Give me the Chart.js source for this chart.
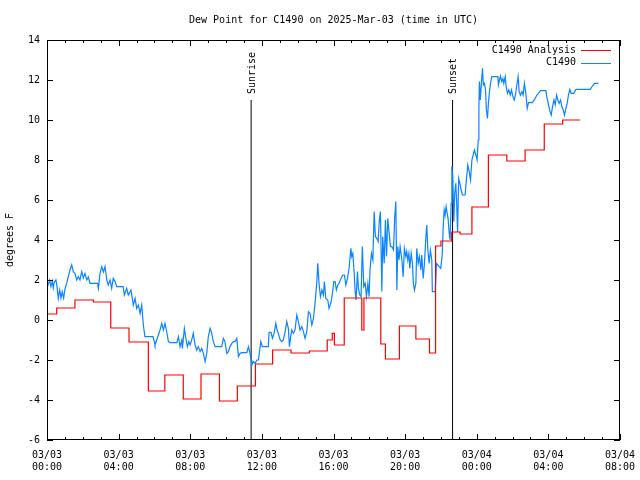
<!doctype html>
<html lang="en">
  <head>
    <meta charset="utf-8">
    <title>Dew Point for C1490</title>
    <style>
      * {
        margin: 0;
        padding: 0;
      }
      body {
        background: #ffffff;
      }
    </style>
  </head>
  <body>
    <canvas id="myChart" width="640" height="480"></canvas>
    <script src="https://cdn.jsdelivr.net/npm/chart.js"></script>
    <script>
    // data: hours since 03/03 00:00 UTC, dew point in degrees F
    const analysisHours = [0, 0.54, 1.56, 2.59, 3.56, 4.58, 5.66, 6.58, 7.61, 8.6, 9.63, 10.63, 11.64,
      12.6, 13.63, 14.65, 15.65, 15.93, 16.05, 16.6, 17.58, 17.7, 18.64, 18.9, 19.68, 20.6, 21.36,
      21.7, 22.0, 22.6, 23.07, 23.73, 24.65, 25.68, 26.7, 27.77, 28.8, 29.78];
    const analysisValues = [0.3, 0.6, 1.0, 0.9, -0.4, -1.1, -3.55, -2.75, -3.95, -2.7, -4.05, -3.3, -2.2,
      -1.5, -1.65, -1.55, -1.0, -0.67, -1.25, 1.1, -0.5, 1.1, -1.2, -1.95, -0.3, -0.95, -1.65,
      3.7, 3.95, 4.4, 4.3, 5.65, 8.25, 7.95, 8.5, 9.8, 10.0, 10.0];

    const obsHours = [0, 0.15, 0.22, 0.30, 0.35, 0.41, 0.50, 0.56, 0.63, 0.71, 0.78, 0.85, 0.93, 1.01,
      1.10, 1.19, 1.28, 1.38, 1.47, 1.56, 1.66, 1.75, 1.84, 1.94, 2.03, 2.12, 2.22, 2.31, 2.40, 2.82,
      2.87, 2.96, 3.06, 3.15, 3.24, 3.34, 3.42, 3.52, 3.61, 3.70, 3.80, 3.89, 4.25, 4.32, 4.45, 4.54,
      4.69, 4.82, 4.92, 5.01, 5.10, 5.20, 5.29, 5.38, 5.47, 5.92, 5.99, 6.03, 6.13, 6.22, 6.31, 6.41,
      6.50, 6.59, 6.69, 6.78, 6.87, 7.25, 7.34, 7.43, 7.53, 7.56, 7.61, 7.67, 7.77, 7.84, 7.92, 7.99,
      8.08, 8.17, 8.27, 8.36, 8.45, 8.55, 8.64, 8.73, 8.83, 8.92, 9.01, 9.11, 9.20, 9.29, 9.39, 9.76,
      9.85, 9.94, 10.04, 10.13, 10.22, 10.32, 10.41, 10.50, 10.60, 10.69, 10.78, 10.88, 11.16, 11.25,
      11.34, 11.40, 11.44, 11.53, 11.62, 11.72, 11.81, 11.94, 12.03, 12.36, 12.40, 12.51, 12.59, 12.68,
      12.78, 12.85, 12.92, 13.02, 13.11, 13.20, 13.30, 13.39, 13.48, 13.54, 13.61, 13.67, 13.76, 13.85,
      13.95, 14.04, 14.13, 14.23, 14.32, 14.41, 14.51, 14.60, 14.69, 14.79, 14.88, 14.97, 15.07, 15.12,
      15.20, 15.27, 15.35, 15.44, 15.49, 15.57, 15.68, 15.75, 15.87, 15.94, 16.02, 16.09, 16.16, 16.24,
      16.31, 16.42, 16.52, 16.61, 16.69, 16.78, 16.87, 16.97, 17.02, 17.08, 17.15, 17.21, 17.26, 17.34,
      17.39, 17.47, 17.54, 17.61, 17.69, 17.77, 17.84, 17.92, 17.99, 18.04, 18.12, 18.20, 18.27, 18.34,
      18.42, 18.49, 18.56, 18.62, 18.70, 18.75, 18.83, 18.90, 18.96, 19.03, 19.11, 19.18, 19.26, 19.35,
      19.42, 19.48, 19.54, 19.59, 19.66, 19.72, 19.82, 19.89, 19.96, 20.04, 20.09, 20.15, 20.21, 20.26,
      20.34, 20.41, 20.46, 20.52, 20.60, 20.65, 20.73, 20.80, 20.88, 20.93, 21.01, 21.08, 21.16, 21.21,
      21.27, 21.34, 21.41, 21.49, 21.52, 21.68, 21.75, 21.83, 21.90, 21.99, 22.07, 22.12, 22.18, 22.23,
      22.29, 22.35, 22.40, 22.46, 22.51, 22.57, 22.61, 22.66, 22.72, 22.77, 22.83, 22.88, 22.93, 22.99,
      23.06, 23.13, 23.20, 23.35, 23.42, 23.50, 23.58, 23.65, 23.73, 23.80, 23.87, 23.95, 24.02, 24.08,
      24.12, 24.15, 24.20, 24.26, 24.32, 24.37, 24.43, 24.49, 24.54, 24.60, 24.65, 24.71, 24.77, 24.84,
      25.18, 25.21, 25.27, 25.32, 25.40, 25.46, 25.51, 25.59, 25.64, 25.72, 25.79, 25.87, 25.94, 26.02,
      26.09, 26.16, 26.24, 26.31, 26.37, 26.44, 26.52, 26.59, 26.66, 26.74, 26.82, 26.89, 27.11, 27.26,
      27.36, 27.45, 27.56, 27.86, 27.93, 28.01, 28.09, 28.16, 28.23, 28.31, 28.38, 28.46, 28.53, 28.60,
      28.68, 28.75, 28.83, 28.90, 28.98, 29.05, 29.12, 29.20, 29.27, 29.42, 29.54, 30.34, 30.46, 30.58,
      30.80];
    const obsValues = [1.6, 2.0, 1.67, 1.95, 1.6, 1.9, 2.0, 1.67, 1.08, 1.5, 1.1, 1.42, 1.1, 1.58,
      1.83, 2.17, 2.5, 2.75, 2.4, 2.33, 2.0, 2.17, 2.0, 2.42, 2.1, 2.33, 2.0, 2.15, 1.83, 1.83,
      1.58, 2.33, 2.67, 2.4, 2.67, 2.0, 1.75, 2.0, 1.58, 2.08, 1.92, 1.67, 1.67, 1.25, 1.58, 1.25,
      1.5, 0.75, 1.08, 0.58, 0.75, 0.33, 0.75, -0.25, -0.83, -0.83, -1.08, -1.25, -1.0, -0.75, -0.5, -0.17,
      -0.5, -0.17, -0.6, -1.08, -1.13, -1.13, -0.83, -1.33, -1.0, -1.42, -1.0, -0.42, -1.0, -1.33, -1.08, -1.25,
      -1.0, -0.67, -1.25, -1.5, -1.33, -1.58, -1.42, -1.67, -2.08, -1.67, -0.83, -0.42, -0.67, -1.08, -1.33, -1.33,
      -0.92, -1.08, -1.67, -1.58, -1.33, -1.17, -1.08, -1.08, -0.92, -1.83, -1.67, -1.63, -1.63, -1.33,
      -1.67, -2.0, -2.25, -2.08, -2.17, -2.0, -2.0, -1.08, -1.33, -1.33, -0.62, -0.62, -0.92, -0.67,
      -0.17, -0.5, -0.67, -1.0, -1.08, -1.0, -0.58, -0.08, -0.42, -1.33, -0.83, -0.5, -0.67, -0.5,
      0.25, -0.08, -0.5, -0.33, -0.58, -0.92, -0.58, 0.42, 0.33, -0.25, 0.08, 0.83, 1.92, 2.83,
      1.75, 1.17, 1.5, 1.25, 1.92, 1.08, 1.0, 0.58, 0.92, 1.33, 1.92, 1.92, 1.5, 1.75,
      1.83, 2.08, 2.25, 2.25, 1.75, 2.08, 2.58, 3.58, 3.17, 3.33, 2.42, 1.42, 1.0, 2.42,
      1.58, 1.25, 1.17, 3.67, 1.67, 1.83, 1.17, 1.83, 1.17, 2.5, 3.33, 3.0, 5.42, 4.17,
      4.08, 3.92, 5.0, 5.42, 1.42, 4.17, 2.83, 5.0, 3.17, 5.08, 4.33, 3.67, 3.67, 3.5,
      5.17, 5.92, 1.5, 3.67, 3.0, 3.67, 3.0, 2.17, 3.58, 3.17, 3.42, 3.0, 3.33, 2.58,
      3.33, 2.83, 1.83, 1.5, 1.83, 3.58, 2.83, 3.17, 2.5, 3.25, 2.08, 2.83, 4.17, 4.75,
      3.5, 2.83, 3.5, 3.0, 1.42, 1.42, 2.83, 2.75, 2.67, 2.58, 3.25, 4.5, 5.5, 5.25,
      5.67, 5.33, 5.08, 4.33, 4.0, 5.83, 7.67, 7.17, 4.92, 6.33, 6.83, 5.83, 4.4, 7.08,
      6.83, 6.5, 6.25, 6.25, 7.0, 7.75, 7.42, 7.0, 8.0, 8.25, 8.5, 8.25, 8.0, 9.0,
      10.67, 11.92, 11.0, 11.83, 12.58, 11.75, 11.83, 11.5, 10.5, 10.08, 10.83, 11.42, 11.83, 12.17,
      12.17, 11.75, 12.0, 12.2, 11.92, 12.08, 11.83, 12.17, 11.67, 11.33, 11.5, 11.25, 11.5, 11.17,
      11.0, 11.25, 11.75, 12.17, 11.42, 11.25, 11.42, 11.25, 11.83, 11.33, 10.58, 10.87, 10.87, 11.08,
      11.25, 11.33, 11.47, 11.47, 11.08, 10.75, 10.42, 10.25, 10.67, 11.0, 10.75, 11.25, 11.0, 10.83,
      11.0, 10.67, 10.5, 10.25, 10.58, 10.83, 11.25, 11.53, 11.33, 11.33, 11.53, 11.53, 11.7, 11.83,
      11.83];

    const sunEvents = ['Sunrise', 'Sunset'];
    const sunHours = [11.4, 22.65];
    const sunLineTop = 11;

    const yTicks = [-6, -4, -2, 0, 2, 4, 6, 8, 10, 12, 14];
    const xTickLabels = [
      ['03/03', '00:00'], ['03/03', '04:00'], ['03/03', '08:00'], ['03/03', '12:00'],
      ['03/03', '16:00'], ['03/03', '20:00'], ['03/04', '00:00'], ['03/04', '04:00'], ['03/04', '08:00']
    ];

    const FONT = '"DejaVu Sans Mono", monospace';

    const toPoints = (xs, ys) => xs.map((x, i) => ({ x: x, y: ys[i] }));

    const datasets = [
      {
        label: 'C1490 Analysis',
        data: toPoints(analysisHours, analysisValues),
        borderColor: '#ff0000',
        borderWidth: 1.2,
        pointRadius: 0,
        stepped: 'before'
      },
      {
        label: 'C1490',
        data: toPoints(obsHours, obsValues),
        borderColor: '#0a84ff',
        borderWidth: 1.2,
        pointRadius: 0
      }
    ];
    sunHours.forEach((h, i) => {
      datasets.push({
        label: sunEvents[i],
        data: [{ x: h, y: yTicks[0] }, { x: h, y: sunLineTop }],
        borderColor: '#000000',
        borderWidth: 1,
        pointRadius: 0
      });
    });

    // frame, inward ticks, title, legend, sun labels
    const decorations = {
      id: 'decorations',
      afterDraw(chart) {
        const ctx = chart.ctx;
        const a = chart.chartArea;
        const xs = chart.scales.x;
        const ys = chart.scales.y;
        ctx.save();
        ctx.strokeStyle = '#000000';
        ctx.lineWidth = 1;
        ctx.strokeRect(a.left + 0.5, a.top + 0.5, a.right - a.left - 1, a.bottom - a.top - 1);

        ctx.beginPath();
        for (let h = xs.min; h <= xs.max; h++) {
          const px = Math.round(xs.getPixelForValue(h)) + 0.5;
          const len = h % 4 === 0 ? 6 : 3;
          ctx.moveTo(px, a.bottom);
          ctx.lineTo(px, a.bottom - len);
          ctx.moveTo(px, a.top);
          ctx.lineTo(px, a.top + len);
        }
        yTicks.forEach(v => {
          const py = Math.round(ys.getPixelForValue(v)) + 0.5;
          ctx.moveTo(a.left, py);
          ctx.lineTo(a.left + 6, py);
          ctx.moveTo(a.right, py);
          ctx.lineTo(a.right - 6, py);
        });
        ctx.stroke();

        ctx.fillStyle = '#000000';
        ctx.font = '10px ' + FONT;
        ctx.textAlign = 'center';
        ctx.textBaseline = 'middle';
        ctx.fillText('Dew Point for C1490 on 2025-Mar-03 (time in UTC)', (a.left + a.right) / 2, 20);

        // y axis title
        ctx.save();
        ctx.translate(10, (a.top + a.bottom) / 2);
        ctx.rotate(-Math.PI / 2);
        ctx.fillText('degrees F', 0, 0);
        ctx.restore();

        // sunrise / sunset labels
        sunHours.forEach((h, i) => {
          const px = xs.getPixelForValue(h);
          const top = ys.getPixelForValue(sunLineTop);
          ctx.save();
          ctx.translate(px + 1, top - 6);
          ctx.rotate(-Math.PI / 2);
          ctx.textAlign = 'left';
          ctx.fillText(sunEvents[i], 0, 0);
          ctx.restore();
        });

        // legend
        ctx.textAlign = 'right';
        [0, 1].forEach(i => {
          const ds = chart.data.datasets[i];
          const ly = 50 + i * 12.5;
          ctx.fillStyle = '#000000';
          ctx.fillText(ds.label, 576, ly);
          ctx.strokeStyle = ds.borderColor;
          ctx.beginPath();
          ctx.moveTo(581, Math.round(ly) + 0.5);
          ctx.lineTo(611, Math.round(ly) + 0.5);
          ctx.stroke();
        });
        ctx.restore();
      }
    };

    const config = {
      type: 'line',
      data: { datasets },
      options: {
        responsive: false,
        animation: false,
        devicePixelRatio: 1,
        layout: { padding: { top: 40, right: 20, left: 0, bottom: 0 } },
        plugins: {
          legend: { display: false },
          tooltip: { enabled: false }
        },
        scales: {
          x: {
            type: 'linear',
            min: 0,
            max: 32,
            afterFit: s => {
              s.height = 40;
              s.paddingLeft = 0;
              s.paddingRight = 0;
            },
            grid: { display: false, drawTicks: false },
            border: { display: false },
            ticks: {
              stepSize: 4,
              padding: 9,
              maxRotation: 0,
              autoSkip: false,
              color: '#000000',
              font: { family: FONT, size: 10 },
              callback: v => xTickLabels[v / 4]
            }
          },
          y: {
            min: -6,
            max: 14,
            afterFit: s => { s.width = 47; },
            grid: { display: false, drawTicks: false },
            border: { display: false },
            ticks: {
              stepSize: 2,
              padding: 7,
              color: '#000000',
              font: { family: FONT, size: 10 }
            }
          }
        }
      },
      plugins: [decorations]
    };

    const myChart = new Chart(document.getElementById('myChart'), config);
    </script>
  </body>
</html>
